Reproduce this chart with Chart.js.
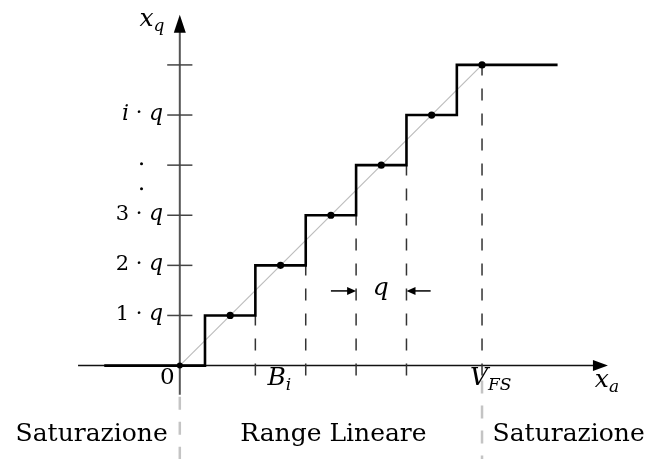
<!DOCTYPE html>
<html>
<head>
<meta charset="utf-8">
<script src="https://cdn.jsdelivr.net/npm/chart.js@4.4.1/dist/chart.umd.min.js"></script>
<style>
  body { margin: 0; background: #fff; }
  #wrap { width: 648px; height: 459px; }
</style>
</head>
<body>
<div id="wrap"><canvas id="quantChart" width="648" height="459"></canvas></div>
<script>
// staircase corners: x_a (in units of q) and quantized level x_q
const stepX = [-1.5, 0.5, 1.5, 2.5, 3.5, 4.5, 5.5, 7.5];
const stepY = [0, 1, 2, 3, 4, 5, 6, 6];
// quantized points in the middle of each step
const dotX = [1, 2, 3, 4, 5, 6];
const dotY = [1, 2, 3, 4, 5, 6];
// thresholds drawn dashed, and the level each one rises to
const edgeX = [1.5, 2.5, 3.5, 4.5, 6];
const edgeTop = [1, 2, 3, 4, 6];
// ideal line
const idealX = [0, 6];
const idealY = [0, 6];
// y axis ticks and their labels
const tickLevels = [1, 2, 3, 4, 5, 6];
const tickLabels = ['1', '2', '3', '', 'i', ''];
// linear range limits (0 and V_FS)
const rangeBounds = [0, 6];
const regionLabels = ['Saturazione', 'Range Lineare', 'Saturazione'];

const SERIF = '"DejaVu Serif", "Liberation Serif", serif';
const ROM = '21px ' + SERIF;
const IT = 'italic 22px ' + SERIF;
const MATH = 'italic 25px ' + SERIF;
const SUB = 'italic 17px ' + SERIF;
const BIG = '25px ' + SERIF;

function line(ctx, x1, y1, x2, y2) {
    ctx.beginPath();
    ctx.moveTo(x1, y1);
    ctx.lineTo(x2, y2);
    ctx.stroke();
}

// filled arrow head with its tip at (x2, y2)
function head(ctx, x1, y1, x2, y2, len, wid) {
    const a = Math.atan2(y2 - y1, x2 - x1);
    ctx.save();
    ctx.translate(x2, y2);
    ctx.rotate(a);
    ctx.beginPath();
    ctx.moveTo(0, 0);
    ctx.lineTo(-len, wid / 2);
    ctx.lineTo(-len, -wid / 2);
    ctx.closePath();
    ctx.fill();
    ctx.restore();
}

// text made of pieces with their own font and vertical shift
function parts(ctx, list, x, y, align) {
    let total = 0;
    list.forEach(p => { ctx.font = p[1]; total += ctx.measureText(p[0]).width; });
    let cx = align === 'right' ? x - total : (align === 'center' ? x - total / 2 : x);
    list.forEach(p => {
        ctx.font = p[1];
        ctx.fillText(p[0], cx, y + (p[2] || 0));
        cx += ctx.measureText(p[0]).width;
    });
}

const diagram = {
    id: 'diagram',
    beforeDatasetsDraw(chart) {
        const ctx = chart.ctx;
        const xs = chart.scales.x, ys = chart.scales.y;
        const px = v => xs.getPixelForValue(v);
        const py = v => ys.getPixelForValue(v);
        ctx.save();

        // grey separators of the linear range
        ctx.strokeStyle = '#c4c4c4';
        ctx.lineWidth = 2.5;
        ctx.setLineDash([13, 12]);
        line(ctx, px(rangeBounds[0]), py(-0.62), px(rangeBounds[0]), chart.height);
        line(ctx, px(rangeBounds[1]), py(-0.3), px(rangeBounds[1]), chart.height);
        ctx.setLineDash([]);

        // y axis
        ctx.strokeStyle = '#555';
        ctx.fillStyle = '#000';
        ctx.lineWidth = 2;
        line(ctx, px(0), py(-0.58), px(0), py(6.7));
        head(ctx, px(0), py(0), px(0), py(7.0), 18, 12);

        // ticks on y axis
        ctx.strokeStyle = '#444';
        ctx.lineWidth = 1.5;
        tickLevels.forEach(l => line(ctx, px(-0.25), py(l), px(0.25), py(l)));

        // x axis
        ctx.strokeStyle = '#111';
        ctx.lineWidth = 1.5;
        line(ctx, px(-2.02), py(0), px(8.3), py(0));
        head(ctx, px(0), py(0), px(8.5), py(0), 15, 11);
        ctx.restore();
    },
    afterDatasetsDraw(chart) {
        const ctx = chart.ctx;
        const xs = chart.scales.x, ys = chart.scales.y;
        const px = v => xs.getPixelForValue(v);
        const py = v => ys.getPixelForValue(v);
        ctx.save();
        ctx.fillStyle = '#000';
        ctx.strokeStyle = '#000';
        ctx.textBaseline = 'middle';

        // y tick labels
        tickLevels.forEach((l, i) => {
            const t = tickLabels[i];
            if (!t) return;
            const f = /[0-9]/.test(t) ? ROM : IT;
            parts(ctx, [[t, f], [' \u00b7 ', ROM], ['q', IT]], px(-0.33), py(l) - 1, 'right');
        });
        // vertical ellipsis between 3q and iq
        [3.53, 4.03].forEach(v => {
            ctx.beginPath();
            ctx.arc(px(-0.76), py(v), 1.5, 0, Math.PI * 2);
            ctx.fill();
        });

        // axis names
        parts(ctx, [['x', MATH], ['q', SUB, 7]], px(-0.8), py(6.9), 'left');
        parts(ctx, [['x', MATH], ['a', SUB, 7]], px(8.24), py(-0.3), 'left');

        // x labels
        parts(ctx, [['0', '23px ' + SERIF]], px(-0.25), py(-0.25), 'center');
        parts(ctx, [['B', MATH], ['i', SUB, 7]], px(1.74), py(-0.25), 'left');
        parts(ctx, [['V', MATH], ['F', SUB, 7], ['S', SUB, 7]], px(5.76), py(-0.25), 'left');

        // q width annotation
        ctx.lineWidth = 1.5;
        const ay = py(1.49);
        line(ctx, px(3.0), ay, px(3.4), ay);
        head(ctx, px(3.0), ay, px(3.5), ay, 9, 8);
        line(ctx, px(4.98), ay, px(4.6), ay);
        head(ctx, px(4.98), ay, px(4.5), ay, 9, 8);
        parts(ctx, [['q', MATH]], px(3.99), ay - 2, 'center');

        // region labels
        const ry = py(-1.37);
        ctx.font = BIG;
        ctx.textAlign = 'center';
        ctx.fillText(regionLabels[0], px(-1.75), ry);
        ctx.fillText(regionLabels[1], px(3.05), ry);
        ctx.fillText(regionLabels[2], px(7.72), ry);
        ctx.restore();
    }
};

const pts = (xa, ya) => xa.map((v, i) => ({ x: v, y: ya[i] }));

const datasets = [
    {
        label: 'punti',
        data: pts(dotX, dotY),
        showLine: false,
        pointRadius: 3.6,
        pointBackgroundColor: '#000',
        pointBorderWidth: 0,
        order: 0
    },
    {
        label: 'origine',
        data: pts([0], [0]),
        showLine: false,
        pointRadius: 3,
        pointBackgroundColor: '#000',
        pointBorderWidth: 0,
        order: 1
    },
    {
        label: 'gradinata',
        data: pts(stepX, stepY),
        showLine: true,
        stepped: 'before',
        borderColor: '#000',
        borderWidth: 2.6,
        pointRadius: 0,
        order: 2
    },
    {
        label: 'ideale',
        data: pts(idealX, idealY),
        showLine: true,
        borderColor: '#bdbdbd',
        borderWidth: 1.2,
        pointRadius: 0,
        order: 3
    }
];

edgeX.forEach((x, i) => {
    datasets.push({
        label: 'soglia ' + i,
        data: [{ x: x, y: -0.2 }, { x: x, y: edgeTop[i] }],
        showLine: true,
        borderColor: '#333',
        borderWidth: 1.5,
        borderDash: [12, 13],
        pointRadius: 0,
        order: 4
    });
});

new Chart(document.getElementById('quantChart'), {
    type: 'scatter',
    data: { datasets: datasets },
    options: {
        responsive: false,
        animation: false,
        layout: { padding: 0 },
        plugins: {
            legend: { display: false },
            tooltip: { enabled: false }
        },
        scales: {
            x: { type: 'linear', display: false, min: -178 / 51, max: 470 / 51 },
            y: { type: 'linear', display: false, min: -91 / 51, max: 368 / 51 }
        }
    },
    plugins: [diagram]
});
</script>
</body>
</html>
